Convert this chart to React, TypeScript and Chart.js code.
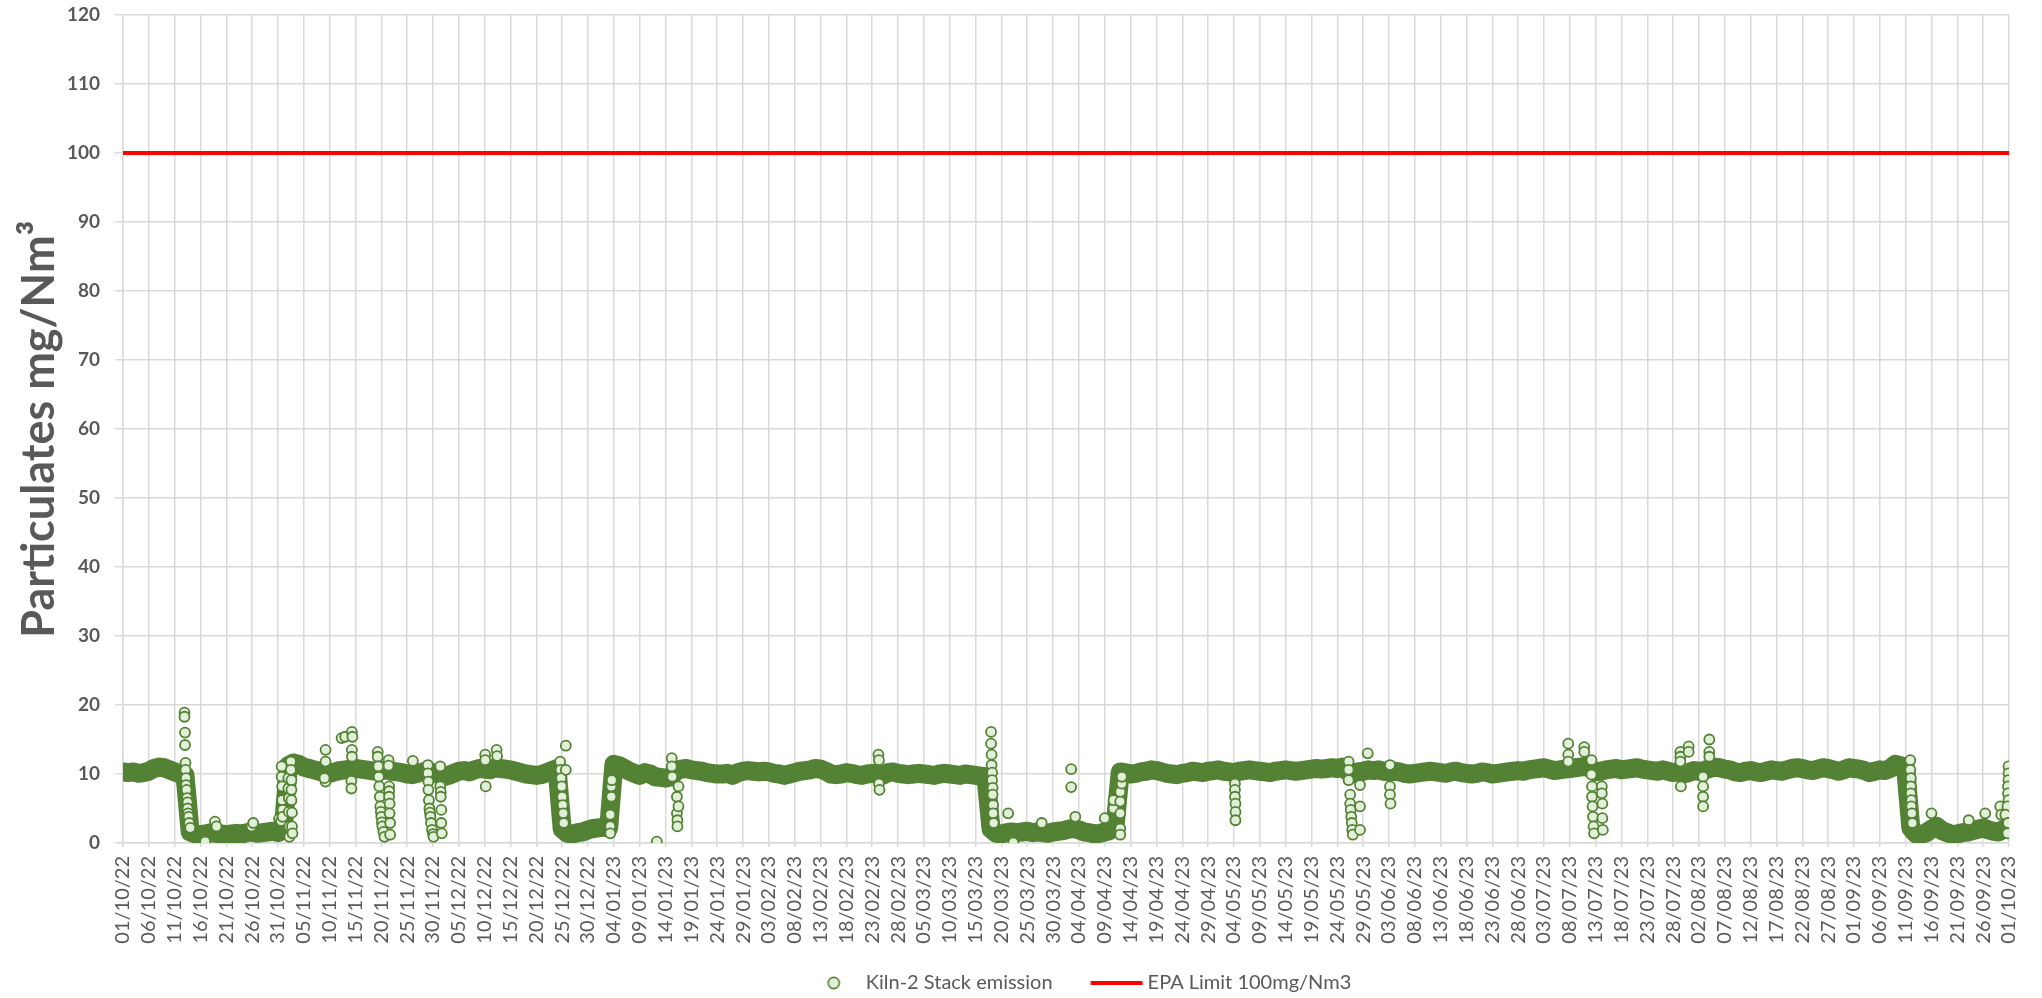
import React, { useEffect, useRef } from 'react';
import { Chart, registerables } from 'chart.js';

Chart.register(...registerables);

// X tick labels (every 5 days from 01/10/22 to 01/10/23)
const tickLabels = [
  '01/10/22', '06/10/22', '11/10/22', '16/10/22', '21/10/22', '26/10/22', '31/10/22',
  '05/11/22', '10/11/22', '15/11/22', '20/11/22', '25/11/22', '30/11/22',
  '05/12/22', '10/12/22', '15/12/22', '20/12/22', '25/12/22', '30/12/22',
  '04/01/23', '09/01/23', '14/01/23', '19/01/23', '24/01/23', '29/01/23',
  '03/02/23', '08/02/23', '13/02/23', '18/02/23', '23/02/23', '28/02/23',
  '05/03/23', '10/03/23', '15/03/23', '20/03/23', '25/03/23', '30/03/23',
  '04/04/23', '09/04/23', '14/04/23', '19/04/23', '24/04/23', '29/04/23',
  '04/05/23', '09/05/23', '14/05/23', '19/05/23', '24/05/23', '29/05/23',
  '03/06/23', '08/06/23', '13/06/23', '18/06/23', '23/06/23', '28/06/23',
  '03/07/23', '08/07/23', '13/07/23', '18/07/23', '23/07/23', '28/07/23',
  '02/08/23', '07/08/23', '12/08/23', '17/08/23', '22/08/23', '27/08/23',
  '01/09/23', '06/09/23', '11/09/23', '16/09/23', '21/09/23', '26/09/23',
  '01/10/23',
];

// Daily typical particulate level (mg/Nm3), one value per day, by month
const oct22 = [10.3, 10.2, 10.3, 10.1, 10.2, 10.4, 10.8, 11.0, 10.9, 10.6, 10.3, 10.0, 9.8, 1.6,
  1.3, 1.2, 1.3, 1.5, 1.4, 1.3, 1.2, 1.3, 1.4, 1.3, 1.5, 1.6, 1.4, 1.5, 1.6, 1.7, 1.5];
const nov22 = [1.9, 11.2, 11.6, 11.4, 11.0, 10.8, 10.6, 10.4, 10.2, 10.1,
  10.3, 10.5, 10.6, 10.7, 10.8, 10.7, 10.6, 10.5, 10.4,
  10.5, 10.6, 10.4, 10.3, 10.2, 10.0, 9.9, 10.1, 10.3, 10.4, 10.2];
const dec22 = [10.0, 9.6, 9.8, 10.1, 10.4, 10.5, 10.3, 10.6, 10.8, 10.7, 10.6, 10.9,
  10.8, 10.7, 10.6, 10.4, 10.2, 10.0, 9.9, 9.8, 9.9, 10.2, 10.5, 10.8,
  2.0, 1.4, 1.3, 1.5, 1.6, 1.9, 2.1];
const jan23 = [2.2, 2.3, 2.2, 11.4, 11.2, 10.8, 10.4, 10.1, 9.8, 10.2, 10.0, 9.6, 9.5, 9.4,
  9.6, 10.4, 10.7, 10.8, 10.6, 10.5, 10.4, 10.2, 10.1, 10.0, 10.0, 10.1, 9.8, 10.2, 10.4, 10.5, 10.4];
const feb23 = [10.3, 10.4, 10.3, 10.1, 10.0, 9.8, 10.0, 10.2, 10.4, 10.5, 10.6, 10.8, 10.7, 10.4,
  10.0, 9.9, 10.0, 10.2, 10.1, 9.9, 9.8, 10.0, 10.1, 10.0, 9.8, 10.2, 10.3, 10.1];
const mar23 = [10.0, 9.9, 10.0, 10.1, 10.0, 9.9, 9.8, 10.0, 10.1, 10.0, 9.9, 9.8, 10.0, 9.9, 9.8, 9.7, 9.6,
  2.0, 1.4, 1.3, 1.5, 1.6, 1.5, 1.6, 1.7, 1.5, 1.6, 1.5, 1.4, 1.6, 1.7];
const apr23 = [1.8, 2.0, 2.1, 1.9, 1.6, 1.5, 1.3, 1.4, 1.6, 1.8, 2.5, 10.3,
  10.2, 10.0, 10.1, 10.3, 10.4, 10.6, 10.5, 10.3, 10.1, 10.0, 9.9, 10.1, 10.2, 10.4, 10.3, 10.2, 10.4, 10.5];
const may23 = [10.6, 10.4, 10.3, 10.2, 10.4, 10.5, 10.6, 10.5, 10.4, 10.3, 10.2, 10.4, 10.5, 10.6, 10.5,
  10.4, 10.5, 10.6, 10.7, 10.8, 10.7, 10.8, 10.9, 10.8, 11.0, 10.4, 10.0, 10.3, 10.4, 10.6, 10.5];
const jun23 = [10.6, 10.4, 10.3, 10.4, 10.3, 10.1, 10.0, 10.1, 10.2, 10.3, 10.4, 10.3, 10.2, 10.1, 10.3,
  10.4, 10.2, 10.1, 10.0, 10.1, 10.3, 10.2, 10.0, 10.1, 10.2, 10.3, 10.4, 10.5, 10.4, 10.6];
const jul23 = [10.7, 10.8, 10.9, 10.7, 10.5, 10.6, 10.7, 10.8, 10.9, 11.0, 11.1, 10.8, 10.3, 10.4, 10.6,
  10.7, 10.8, 10.6, 10.7, 10.8, 10.9, 10.7, 10.6, 10.5, 10.4, 10.6, 10.4, 10.2, 10.3, 10.0, 10.2];
const aug23 = [10.5, 10.4, 10.5, 10.8, 11.0, 10.9, 10.7, 10.6, 10.3, 10.2, 10.4, 10.5, 10.3, 10.2, 10.4,
  10.6, 10.5, 10.4, 10.6, 10.8, 10.9, 10.8, 10.6, 10.5, 10.7, 10.9, 10.8, 10.6, 10.4, 10.6, 10.9];
const sep23 = [10.8, 10.7, 10.5, 10.2, 10.4, 10.6, 10.5, 10.8, 11.4, 11.2, 10.8, 2.2,
  1.3, 1.2, 1.5, 2.0, 2.4, 1.8, 1.5, 1.2, 1.3, 1.5, 1.6, 1.8, 2.0, 2.2, 1.9, 1.7, 1.6, 2.0];
const oct23 = [2.0];

// Individual readings away from the daily level: [day since 01/10/22, mg/Nm3]
const excursions: [number, number][] = [
  [11.9, 18.9], [11.9, 18.3], [12.0, 16.0], [12.0, 14.2], [12.1, 11.6], [12.1, 10.6], [12.2, 9.4],
  [12.2, 8.4], [12.3, 7.7], [12.4, 6.5], [12.5, 5.9], [12.5, 5.0], [12.6, 4.3], [12.7, 3.8], [12.8, 2.9], [13.0, 2.2],
  [15.9, 0.2], [17.8, 3.1], [18.1, 2.4], [24.9, 2.4], [25.2, 2.9], [30.2, 3.5], [30.6, 3.2],
  [30.7, 11.1], [30.7, 9.6], [30.8, 8.2], [30.8, 6.2], [30.9, 4.8], [30.9, 3.8],
  [32.0, 9.4], [32.0, 7.9], [32.1, 6.5], [32.1, 4.5], [32.2, 2.4], [32.2, 0.9],
  [32.5, 11.8], [32.5, 10.6], [32.6, 9.1], [32.6, 7.7], [32.6, 6.2], [32.7, 4.4], [32.7, 2.4], [32.8, 1.4],
  [39.2, 13.5], [39.2, 11.8], [39.2, 8.9], [39.0, 9.4],
  [42.3, 15.2], [43.0, 15.4],
  [44.3, 16.1], [44.4, 15.4], [44.3, 13.5], [44.3, 12.5], [44.2, 9.0], [44.2, 7.9],
  [49.3, 13.2], [49.3, 12.5], [49.4, 11.1], [49.5, 9.6], [49.6, 8.2], [49.7, 6.7], [49.8, 5.3], [49.9, 4.5],
  [50.0, 3.8], [50.1, 3.0], [50.2, 2.4], [50.4, 1.6], [50.6, 0.9],
  [51.4, 12.0], [51.4, 11.2], [51.5, 8.2], [51.5, 7.5], [51.5, 6.7], [51.6, 5.7], [51.6, 4.3], [51.7, 2.9], [51.7, 1.2],
  [56.1, 11.9],
  [59.0, 11.3], [59.0, 10.1], [59.1, 8.9], [59.1, 7.7], [59.2, 6.2], [59.3, 5.0], [59.4, 4.4], [59.5, 3.8],
  [59.6, 2.9], [59.8, 1.9], [60.0, 1.3], [60.1, 0.9],
  [61.4, 11.1], [61.4, 8.2], [61.5, 7.4], [61.5, 6.7], [61.6, 4.8], [61.6, 2.9], [61.7, 1.4],
  [70.1, 12.8], [70.1, 12.0], [70.2, 8.2], [72.3, 13.5], [72.4, 12.6],
  [84.6, 11.8], [84.7, 10.6], [84.8, 9.4], [84.9, 8.2], [85.0, 6.7], [85.1, 5.5], [85.2, 4.3], [85.3, 2.9],
  [85.7, 14.1], [85.7, 10.6],
  [94.3, 4.1], [94.3, 2.4], [94.3, 1.4], [94.5, 6.7], [94.5, 8.2], [94.6, 9.1],
  [103.3, 0.2],
  [106.2, 12.3], [106.2, 11.1], [106.3, 9.6], [107.2, 6.7], [107.2, 4.3], [107.3, 3.3], [107.3, 2.4],
  [107.5, 8.2], [107.5, 5.3],
  [146.2, 12.8], [146.3, 12.0], [146.3, 8.6], [146.4, 7.7],
  [168.0, 16.1], [168.0, 14.4], [168.1, 12.8], [168.1, 11.3], [168.2, 10.2], [168.2, 9.1], [168.3, 8.0],
  [168.3, 7.0], [168.4, 5.5], [168.4, 4.3], [168.5, 2.9],
  [172.3, 0.05], [171.3, 4.3], [177.8, 2.9], [184.3, 3.8],
  [183.5, 10.7], [183.5, 8.1],
  [190.0, 3.6], [191.7, 5.0], [191.7, 6.2], [193.0, 7.4], [193.0, 6.0], [193.0, 4.3], [193.0, 2.1], [193.0, 1.2],
  [193.3, 8.6], [193.3, 9.6],
  [215.2, 8.6], [215.2, 7.7], [215.2, 6.7], [215.3, 5.7], [215.3, 4.5], [215.3, 3.3],
  [237.2, 11.8], [237.2, 10.6], [237.2, 9.1], [237.5, 7.0], [237.5, 5.7], [237.6, 4.8], [237.7, 3.8],
  [237.8, 2.9], [237.9, 1.9], [238.0, 1.2], [239.4, 8.4], [239.4, 5.3], [239.4, 1.9],
  [240.9, 13.0],
  [245.2, 11.3], [245.2, 8.2], [245.2, 7.0], [245.3, 5.7],
  [279.7, 14.4], [279.7, 12.8], [279.7, 11.8], [282.8, 13.9], [282.8, 13.2],
  [284.2, 12.0], [284.2, 9.9], [284.3, 8.2], [284.3, 6.7], [284.4, 5.3], [284.5, 3.8], [284.6, 2.4], [284.7, 1.4],
  [286.2, 8.2], [286.2, 7.2], [286.3, 5.7], [286.3, 3.6], [286.4, 1.9],
  [301.4, 13.2], [301.4, 12.5], [301.4, 11.8], [301.5, 8.2], [303.0, 14.0], [303.0, 13.2],
  [307.0, 15.0], [307.0, 13.2], [307.0, 12.5], [305.8, 9.6], [305.8, 8.2], [305.8, 6.7], [305.8, 5.3],
  [345.9, 12.0], [345.9, 10.6], [346.0, 9.4], [346.0, 8.2], [346.0, 7.2], [346.1, 6.2], [346.1, 5.3],
  [346.2, 4.3], [346.3, 2.9],
  [350.0, 4.3], [357.2, 3.3], [360.4, 4.3],
  [363.3, 5.3], [363.5, 4.1],
  [364.9, 11.1], [364.9, 10.1], [364.9, 9.1], [364.8, 8.2], [364.8, 7.2], [364.9, 6.2], [364.7, 5.3],
  [364.3, 4.1], [364.8, 2.9], [364.7, 1.4],
];

const epaLimit = 100;
const seriesLabel = 'Kiln-2 Stack emission';
const limitLabel = 'EPA Limit 100mg/Nm3';
const yTitle = 'Particulates mg/Nm\u00B3';

const dailyLevels = [
  ...oct22, ...nov22, ...dec22, ...jan23, ...feb23, ...mar23,
  ...apr23, ...may23, ...jun23, ...jul23, ...aug23, ...sep23, ...oct23,
];

const GREEN = '#548235';
const LIGHT = '#E2F0D9';
const GRID = '#D9D9D9';
const TEXT = '#595959';
const FONT = 'Lato, "Open Sans", sans-serif';
const LEGEND_BOX = 75;

export default function App() {
  const ref = useRef<HTMLCanvasElement>(null);

  useEffect(() => {
    const canvas = ref.current;
    if (!canvas) return;

    // legend symbol: circle marker, placed near the right of its box
    const circleIcon = document.createElement('canvas');
    circleIcon.width = LEGEND_BOX;
    circleIcon.height = 16;
    const c1 = circleIcon.getContext('2d');
    if (c1) {
      c1.beginPath();
      c1.arc(53, 8, 5.6, 0, Math.PI * 2);
      c1.fillStyle = LIGHT;
      c1.fill();
      c1.lineWidth = 1.6;
      c1.strokeStyle = GREEN;
      c1.stroke();
    }
    // legend symbol: red line segment
    const lineIcon = document.createElement('canvas');
    lineIcon.width = 90;
    lineIcon.height = 16;
    const c2 = lineIcon.getContext('2d');
    if (c2) {
      c2.beginPath();
      c2.moveTo(35.5, 8);
      c2.lineTo(87.5, 8);
      c2.lineWidth = 4;
      c2.strokeStyle = '#FF0000';
      c2.stroke();
    }

    const chart = new Chart(canvas, {
      type: 'scatter',
      data: {
        datasets: [
          {
            label: seriesLabel,
            data: excursions.map(([x, y]) => ({ x, y })),
            pointRadius: 5,
            pointBorderWidth: 1.8,
            borderColor: GREEN,
            backgroundColor: LIGHT,
            pointBackgroundColor: LIGHT,
            pointBorderColor: GREEN,
          },
          {
            type: 'line',
            label: seriesLabel + ' (daily)',
            data: dailyLevels.map((y, x) => ({ x, y })),
            borderColor: GREEN,
            borderWidth: 19,
            borderCapStyle: 'round',
            borderJoinStyle: 'round',
            pointRadius: 0,
            fill: false,
            tension: 0,
          } as any,
          {
            type: 'line',
            label: limitLabel,
            data: [{ x: 0, y: epaLimit }, { x: (tickLabels.length - 1) * 5, y: epaLimit }],
            borderColor: '#FF0000',
            backgroundColor: '#FF0000',
            borderWidth: 4,
            pointRadius: 0,
            fill: false,
          } as any,
        ],
      },
      options: {
        animation: false,
        responsive: false,
        events: [],
        layout: { autoPadding: false, padding: { left: 0, right: 33, top: 15, bottom: -5 } },
        scales: {
          x: {
            type: 'linear',
            min: 0,
            max: (tickLabels.length - 1) * 5,
            afterFit: (scale: any) => {
              scale.height = 120;
              scale.paddingLeft = 0;
              scale.paddingRight = 0;
            },
            grid: { color: GRID, lineWidth: 1.5, tickLength: 4, drawTicks: true, tickColor: GRID },
            border: { color: GRID, width: 1.5 },
            ticks: {
              stepSize: 5,
              autoSkip: false,
              maxRotation: 90,
              minRotation: 90,
              padding: 9,
              color: TEXT,
              font: { family: FONT, size: 20 },
              callback: (v: any) => tickLabels[Math.round(Number(v) / 5)] ?? '',
            },
          },
          y: {
            type: 'linear',
            min: 0,
            max: 120,
            afterFit: (scale: any) => {
              scale.width = 123;
              scale.paddingTop = 0;
              scale.paddingBottom = 0;
            },
            grid: { color: GRID, lineWidth: 1.5, tickLength: 8, tickColor: GRID },
            border: { color: GRID, width: 1.5 },
            ticks: {
              stepSize: 10,
              padding: 15,
              color: TEXT,
              font: { family: FONT, size: 19, weight: 'bold' },
            },
            title: {
              display: true,
              text: yTitle,
              color: TEXT,
              font: { family: FONT, size: 45, weight: 'bold' },
              padding: { top: 12, bottom: 0 },
            },
          },
        },
        plugins: {
          tooltip: { enabled: false },
          legend: {
            position: 'bottom',
            fullSize: false,
            labels: {
              usePointStyle: true,
              pointStyleWidth: LEGEND_BOX,
              padding: 10,
              color: TEXT,
              font: { family: FONT, size: 20 },
              generateLabels: () => [
                {
                  text: seriesLabel,
                  fillStyle: LIGHT,
                  strokeStyle: GREEN,
                  lineWidth: 1.5,
                  pointStyle: circleIcon,
                  hidden: false,
                  datasetIndex: 0,
                  fontColor: TEXT,
                } as any,
                {
                  text: limitLabel,
                  fillStyle: '#FF0000',
                  strokeStyle: '#FF0000',
                  lineWidth: 4,
                  pointStyle: lineIcon,
                  hidden: false,
                  datasetIndex: 2,
                  fontColor: TEXT,
                } as any,
              ],
            },
          },
        },
      } as any,
    });

    return () => chart.destroy();
  }, []);

  return (
    <div style={{ position: 'fixed', left: 0, top: 0, width: 2042, height: 998, background: '#ffffff' }}>
      <canvas ref={ref} width={2042} height={998} style={{ display: 'block' }} />
    </div>
  );
}
